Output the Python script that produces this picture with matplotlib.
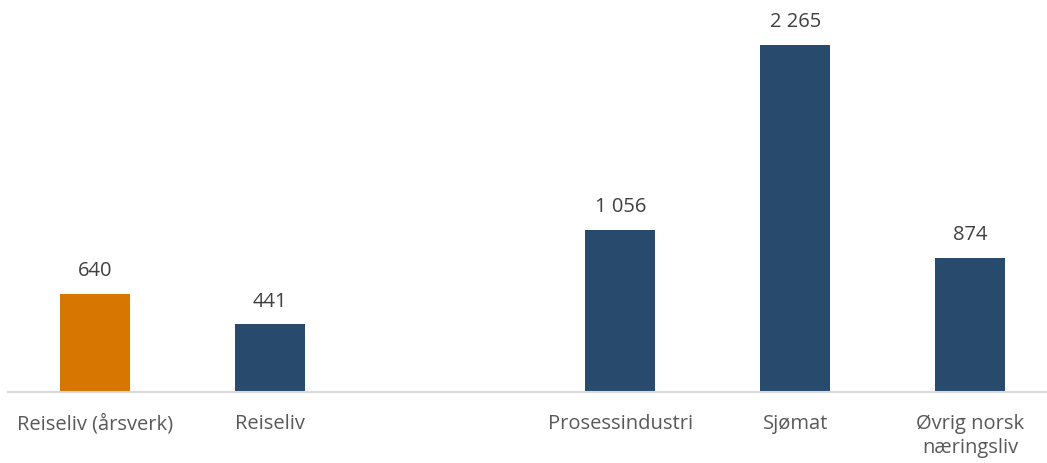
import matplotlib.pyplot as plt

plt.rcParams['font.family'] = ['Open Sans', 'DejaVu Sans']

# Categories (an empty slot separates the tourism bars from the others)
categories = ['Reiseliv (årsverk)', 'Reiseliv', '', 'Prosessindustri', 'Sjømat', 'Øvrig norsk\nnæringsliv']
values = [640, 441, None, 1056, 2265, 874]
value_labels = ['640', '441', '', '1 056', '2 265', '874']
bar_colors = ['#D77600', '#274A6D', None, '#274A6D', '#274A6D', '#274A6D']

W, H = 1047, 464
fig = plt.figure(figsize=(W / 100, H / 100), dpi=100)
base_px = 393
ax = fig.add_axes([8 / W, (H - base_px) / H, 1 - 8 / W, base_px / H])

slot = 175
x0 = 96
for i, (v, c, lab) in enumerate(zip(values, bar_colors, value_labels)):
    if v is None:
        continue
    ax.bar(i, v, width=70 / slot, color=c)
    ax.annotate(lab, (i, v), xytext=(0, 10), textcoords='offset points',
                ha='center', va='bottom', fontsize=14.5, color='#404040')

ax.set_xlim(-x0 / slot + 0.05, (W - 8 - x0) / slot + 0.05)
ax.set_ylim(0, base_px / 347 * 2265)

ax.set_xticks(range(len(categories)))
ax.set_xticklabels(categories, fontsize=14.5, color='#595959', linespacing=1.3)
ax.tick_params(axis='x', length=0, pad=15)
ax.set_yticks([])

for side in ['top', 'right', 'left']:
    ax.spines[side].set_visible(False)
ax.spines['bottom'].set_color('#D9D9D9')
ax.spines['bottom'].set_linewidth(1.5)

fig.savefig('out.png', dpi=100)
